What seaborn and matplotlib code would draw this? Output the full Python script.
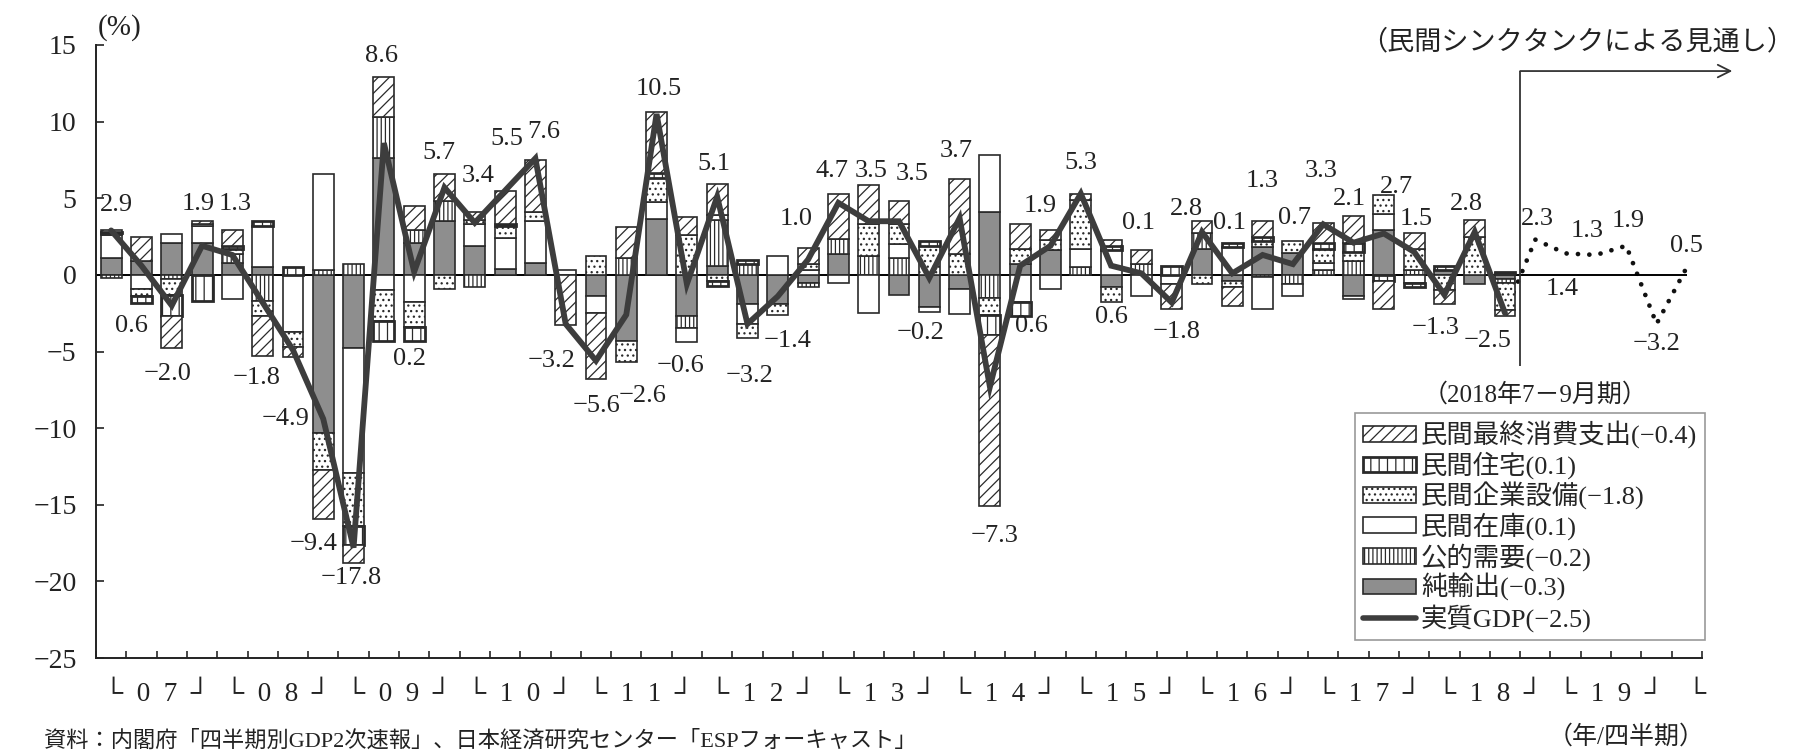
import numpy as np
import matplotlib
matplotlib.use("Agg")
import matplotlib.pyplot as plt
import matplotlib.transforms as mtransforms
from matplotlib.patches import Patch
from matplotlib.lines import Line2D
import seaborn as sns

# --- DATA (annualised q/q growth, contributions in % points) ---
YEARS = ["07", "08", "09", "10", "11", "12", "13", "14", "15", "16", "17", "18", "19"]

# real GDP, 2007Q1 .. 2018Q3
GDP = [2.9, 0.6, -2.0, 1.9, 1.3, -1.8, -4.9, -9.4, -17.8, 8.6, 0.2, 5.7,
       3.4, 5.5, 7.6, -3.2, -5.6, -2.6, 10.5, -0.6, 5.1, -3.2, -1.4, 1.0,
       4.7, 3.5, 3.5, -0.2, 3.7, -7.3, 0.6, 1.9, 5.3, 0.6, 0.1, -1.8,
       2.8, 0.1, 1.3, 0.7, 3.3, 2.1, 2.7, 1.5, -1.3, 2.8, -2.5]
# private think-tank outlook, 2018Q4 .. 2020Q1
FORECAST = [2.3, 1.4, 1.3, 1.9, -3.2, 0.5]

NET_EXPORTS = [1.1, 0.9, 2.1, 2.1, 0.8, 0.5, 0, -10.3, -4.8, 7.6, 2.1, 3.5,
               1.9, 0.4, 0.8, 0, -1.4, -4.3, 3.65, -2.7, 0.6, -1.9, -1.9, -0.5,
               1.35, 0, -1.3, -2.1, -0.95, 4.1, 0.7, 1.6, 0, -0.8, 0, 0,
               1.7, -0.4, 1.8, 1.45, 0, -1.35, 2.9, 0, 0.3, -0.6, -0.3]
PUBLIC = [-0.2, 0, -0.3, 0, 0.55, -1.7, 0, 0.3, 0.7, 2.7, 0.8, 1.3,
          -0.8, 0, 0, 0, 0, 1.1, 0, -0.75, 3.0, 0.7, 0, -0.3,
          1.0, 1.25, 1.1, 0, 0, -1.5, 0, 0, 0.5, 0, 0.7, 0,
          1.0, 0, -0.15, -0.6, 0.3, 0.9, 0, 0.3, 0, 0, -0.2]
INVENTORY = [1.5, -0.9, 0.55, 1.1, -1.6, 2.7, -3.7, 6.3, -8.1, -1.0, -1.8, 0,
             1.4, 2.0, 2.7, 0.3, -1.1, 0, 1.1, -0.9, 0.3, -1.3, 1.25, 0.3,
             -0.5, -2.5, 0.9, -0.3, -1.6, 3.7, -1.8, -0.95, 1.2, 1.6, -1.4, -0.6,
             0, 1.8, -2.1, -0.8, 0.5, -0.2, 1.1, -0.5, 0, 0, 0.1]
CAPEX = [0.1, -0.45, -1.0, 0.1, 0.35, -1.0, -1.0, -2.4, -3.5, -2.0, -1.6, -0.9,
         0.3, 0.8, 0.6, 0, 1.2, -1.4, 1.6, 2.6, -0.4, -0.9, -0.75, 0.4,
         0, 2.1, 1.3, 1.9, 1.35, -1.1, 1.0, 0.7, 3.2, -1.0, 0, 0,
         -0.6, -0.4, 0.4, 0.75, 0.9, 0.6, 1.2, 1.4, -1.0, 2.5, -1.8]
HOUSING = [0.1, -0.5, -1.4, -1.7, 0.2, 0.3, 0.5, 0, -1.2, -1.3, -0.9, 0,
           0, 0.1, 0, 0, 0, 0, 0.3, 0, -0.3, 0.3, 0, 0,
           0, 0, 0, 0.3, 0, -1.3, -0.9, 0, 0, 0.3, 0, 0.55,
           0, 0.27, 0.25, 0, 0.4, 0.6, -0.4, -0.3, 0.3, 0, 0.1]
CONSUMPTION = [0.1, 1.6, -2.1, 0.2, 1.0, -2.6, -0.65, -3.2, -1.2, 2.6, 1.6, 1.8,
               0.5, 2.2, 3.4, -3.3, -4.3, 2.0, 4.0, 1.2, 2.0, 0, 0, 1.05,
               2.9, 2.5, 1.5, 0, 4.9, -11.2, 1.6, 0.6, 0.4, 0.4, 0.9, -1.65,
               0.8, -1.2, 1.05, 0, 1.3, 1.75, -1.85, 1.0, -0.9, 1.1, -0.4]

LEGEND_LABELS = ["民間最終消費支出(−0.4)", "民間住宅(0.1)", "民間企業設備(−1.8)",
                 "民間在庫(0.1)", "公的需要(−0.2)", "純輸出(−0.3)", "実質GDP(−2.5)"]

# label offsets from each point, in pixels (dx, dy)
LABEL_OFFSETS = [(5, 25), (-10, -60), (-4, -68), (-4, 42), (3, 51), (-6, -76),
                 (-7, -69), (-10, -125), (-2, -30), (-2, 87), (-5, -87), (-6, 35),
                 (3, 47), (2, 52), (8, 26), (-14, -37), (1, -45), (16, -81),
                 (2, 25), (-6, -82), (-3, 33), (2, -52), (10, -45), (-12, 41),
                 (-6, 32), (2, 50), (13, 47), (-9, -55), (-3, 67), (5, -149),
                 (11, -60), (-10, 40), (0, 31), (0, -51), (-3, 50), (5, -30),
                 (-16, 23), (-3, 50), (0, 74), (2, 46), (-2, 53), (-4, 44),
                 (13, 46), (2, 33), (-9, -33), (-8, 28), (-17, -28),
                 (2, 21), (-3, -36), (-9, 24), (2, 25), (0, -20), (0, 21)]

# --- STYLE ---
sns.set_style("ticks")
plt.rcParams["font.family"] = ["Liberation Serif", "Noto Sans CJK JP"]
plt.rcParams["hatch.linewidth"] = 0.9
plt.rcParams["axes.unicode_minus"] = True

EDGE = "#2a2a2a"
LINE_C = "#3d3d3d"
TXT = "#222222"
SERIES = [  # stacked from zero outward
    (NET_EXPORTS, dict(facecolor="#8e8e8e", hatch=None, linewidth=1.2)),
    (PUBLIC, dict(facecolor="white", hatch="||||", linewidth=1.2)),
    (INVENTORY, dict(facecolor="white", hatch=None, linewidth=1.2)),
    (CAPEX, dict(facecolor="white", hatch="...", linewidth=1.2)),
    (HOUSING, dict(facecolor="white", hatch="||", linewidth=2.0)),
    (CONSUMPTION, dict(facecolor="white", hatch="///", linewidth=1.2)),
]

fig = plt.figure(figsize=(17.97, 7.53), dpi=100)
ax = fig.add_axes([0.05342, 0.12616, 0.89371, 0.81408])

n = len(GDP)
x = np.arange(n)
pos_bottom = np.zeros(n)
neg_bottom = np.zeros(n)
for values, st in SERIES:
    v = np.array(values, dtype=float)
    bottom = np.where(v >= 0, pos_bottom, neg_bottom)
    keep = v != 0
    ax.bar(x[keep], v[keep], bottom=bottom[keep], width=0.69, edgecolor=EDGE,
           zorder=3, **st)
    pos_bottom += np.where(v > 0, v, 0)
    neg_bottom += np.where(v < 0, v, 0)

# zero line
ax.hlines(0, -0.5, n + len(FORECAST) - 1, color="black", lw=1.4, zorder=2.5)

# forecast dotted line (from last actual point)
fx = np.arange(n - 1, n + len(FORECAST))
fy = [GDP[-1]] + FORECAST
sns.lineplot(x=fx, y=fy, ax=ax, color="#111111", lw=3.4, zorder=1.5,
             linestyle=(0, (0.01, 2.4)), dash_capstyle="round")

# actual GDP line
sns.lineplot(x=x, y=GDP, ax=ax, color=LINE_C, lw=4.2, zorder=4,
             solid_joinstyle="miter")

# value labels
all_vals = GDP + FORECAST
for i, (val, (dx, dy)) in enumerate(zip(all_vals, LABEL_OFFSETS)):
    ax.annotate(f"{val:.1f}".replace("-", "−"), (i, val), xytext=(dx, dy),
                textcoords="offset pixels", ha="center", va="center",
                fontsize=19, color=TXT, zorder=6, annotation_clip=False)

# axes
ax.set_xlim(-0.5, n + len(FORECAST) - 0.5)
ax.set_ylim(-25, 15)
ax.set_yticks(np.arange(-25, 16, 5))
ax.set_xticks(np.arange(-0.5, n + len(FORECAST), 1))
ax.set_xticklabels([])
ax.tick_params(axis="y", direction="in", length=6, width=1.2, pad=14,
               labelsize=20, colors=TXT)
ax.tick_params(axis="x", direction="in", length=5, width=1.2)
for s in ["top", "right"]:
    ax.spines[s].set_visible(False)
for s in ["left", "bottom"]:
    ax.spines[s].set_linewidth(1.4)
    ax.spines[s].set_color(TXT)
ax.set_xlabel("")
ax.set_ylabel("")

# year labels under the axis
trans = mtransforms.blended_transform_factory(ax.transData, fig.transFigure)
for k, yy in enumerate(YEARS):
    ax.text(4 * k + 1.5, 0.078, f"└  {yy[0]}  {yy[1]}  ┘", transform=trans,
            ha="center", va="center", fontsize=19.5, color=TXT)
ax.text(4 * len(YEARS), 0.078, "└", transform=trans, ha="left", va="center",
        fontsize=19.5, color=TXT)

# forecast marker and arrow
ax.vlines(n - 0.5, -5.94, 13.3, color="#333333", lw=1.3, zorder=5)
ax.annotate("", xy=(n + 6.5, 13.3), xytext=(n - 0.5, 13.3),
            arrowprops=dict(arrowstyle="->,head_length=0.9,head_width=0.45",
                            lw=1.3, color="#333333", shrinkA=0, shrinkB=0),
            annotation_clip=False)

fig.text(0.8776, 0.9429, "（民間シンクタンクによる見通し）", ha="center", va="center",
         fontsize=19.5, color=TXT)
fig.text(0.0545, 0.9628, "(%)", ha="left", va="center", fontsize=21, color=TXT)
fig.text(0.8542, 0.4754, "（2018年7－9月期）", ha="center", va="center",
         fontsize=18, color=TXT)
fig.text(0.9488, 0.0212, "（年/四半期）", ha="right", va="center",
         fontsize=18, color=TXT)
fig.text(0.0245, 0.002, "資料：内閣府「四半期別GDP2次速報」、日本経済研究センター「ESPフォーキャスト」",
         ha="left", va="bottom", fontsize=16, color=TXT)

# legend
handles = [Patch(edgecolor=EDGE, **SERIES[5][1]),
           Patch(edgecolor=EDGE, **SERIES[4][1]),
           Patch(edgecolor=EDGE, **SERIES[3][1]),
           Patch(edgecolor=EDGE, **SERIES[2][1]),
           Patch(edgecolor=EDGE, **SERIES[1][1]),
           Patch(edgecolor=EDGE, **SERIES[0][1]),
           Line2D([0], [0], color=LINE_C, lw=4)]
leg = fig.legend(handles, LEGEND_LABELS, loc="upper left",
                 bbox_to_anchor=(0.7540, 0.4515), bbox_transform=fig.transFigure,
                 fontsize=19, frameon=True, fancybox=False, edgecolor="#999999",
                 framealpha=1, handlelength=2.0, handleheight=0.55,
                 handletextpad=0.2, labelspacing=0.1, borderpad=0.3,
                 borderaxespad=0)
leg.get_frame().set_linewidth(1.2)

fig.savefig("out.png", dpi=100)
